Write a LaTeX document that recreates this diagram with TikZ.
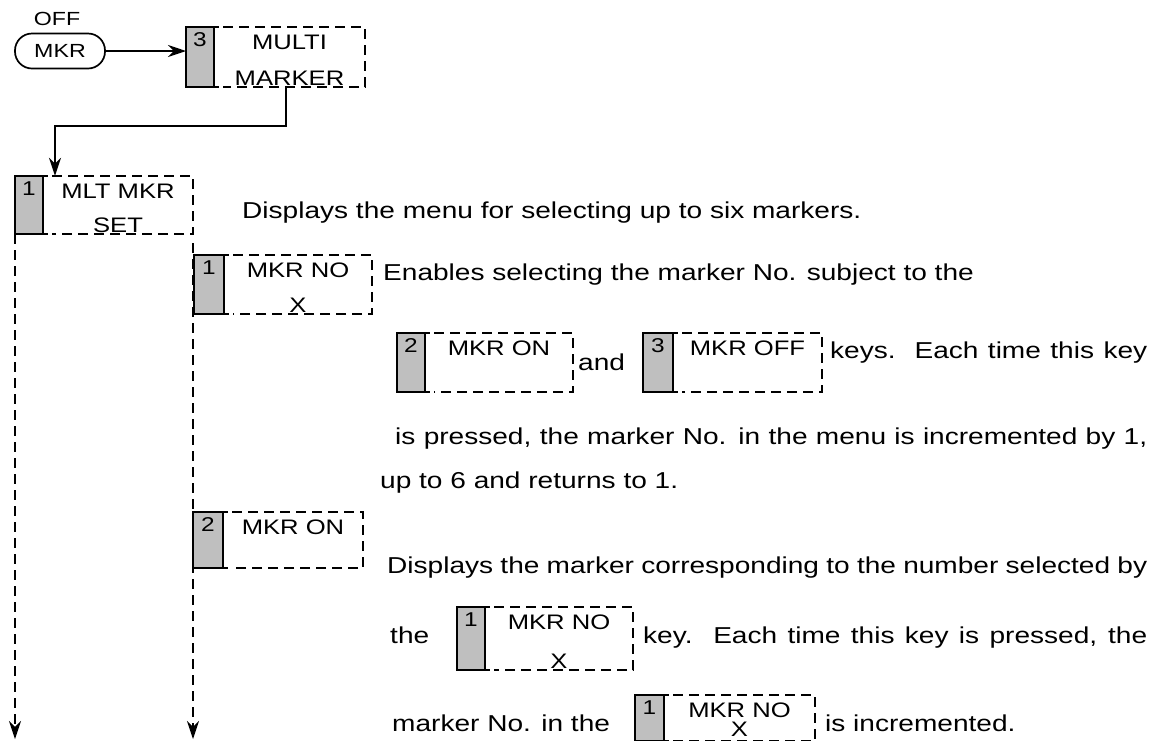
\documentclass[tikz,border=0pt]{standalone}
\usepackage{fontspec}
\setmainfont{Liberation Sans}[FakeStretch=1.22]
\usetikzlibrary{arrows.meta,calc}
\tikzset{
  px/.style={x=1pt,y=-1pt},
  solidln/.style={line width=1.7pt},
  dashln/.style={line width=1.7pt,dash pattern=on 10pt off 6pt},
  arr/.style={-{Stealth[length=18pt,width=12pt]}},
  keyshade/.style={fill=black!25},
  hardtxt/.style={font=\fontsize{19}{21}\selectfont,inner sep=0pt},
  keytxt/.style={font=\fontsize{21}{23}\selectfont,inner sep=0pt},
  keynum/.style={font=\fontsize{20}{22}\selectfont,inner sep=0pt},
  body/.style={font=\fontsize{23}{26}\selectfont,inner sep=0pt,anchor=base west},
  area/.style={draw=none,inner sep=0pt,rectangle}
}
\newcommand{\jline}[2]{\hbox to #1pt{#2}}
% #1 name, #2 x left, #3 x shade right, #4 x right, #5 y top, #6 y bottom, #7 number, #8 line 1, #9 line 2
\newcommand{\softkey}[9]{%
  \path[keyshade] (#2,#5) rectangle (#3,#6);
  \draw[solidln] (#2,#5) rectangle (#3,#6);
  \draw[solidln] (#3,#5) -- ++(5,0) (#3,#6) -- ++(5,0);
  \draw[dashln] ({#3+9},#5) -- (#4,#5) -- (#4,#6) -- ({#3+9},#6);
  \node[area,minimum width={#4-#3},minimum height={#6-#5}] (#1) at ({(#3+#4)/2},{(#5+#6)/2}) {};
  \node[keynum] (#1-n) at ({(#2+#3)/2},{#5+13}) {#7};
  \node[keytxt] (#1-a) at ({(#3+#4)/2},{#5+15}) {#8};
  \node[keytxt,anchor=base] (#1-b) at ({(#3+#4)/2},{#6-1.5}) {#9};
}
\begin{document}
\begin{tikzpicture}[px]
\useasboundingbox (0,0) rectangle (1158,740);

% MKR hard key
\node[hardtxt] (off) at (57,19) {OFF};
\node[draw,solidln,rounded corners=17pt,minimum width=90pt,minimum height=35pt,hardtxt] (mkr) at (60,51) {MKR};

\softkey{mm}{186}{214}{365}{27}{87}{3}{MULTI}{MARKER}
\draw[solidln,arr] (mkr.east) -- (mkr.east -| 186,0);

\softkey{mlt}{15}{43}{193}{176}{234}{1}{MLT MKR}{SET}
\coordinate (c1) at (55,126);
\draw[solidln,arr] ([xshift=-3.5pt]mm.south) |- (c1) -- (c1 |- mlt.north);

% dashed flow lines
\coordinate (endA) at (15,739);
\coordinate (endB) at (193,739);
\draw[dashln,arr] (15,234) -- (endA);
\draw[dashln,arr] (193,243) -- (endB);

\node[body] (t1) at (242,218) {Displays the menu for selecting up to six markers.};

\softkey{no}{194}{224}{372}{255}{314}{1}{MKR NO}{X}
\node[body] (t2) at (383,280) {Enables selecting the marker No. subject to the};

\softkey{on1}{397}{425}{573}{333}{392}{2}{MKR ON}{}
\node[body] (t3) at (578,370) {and};
\softkey{off1}{643}{673}{822}{333}{392}{3}{MKR OFF}{}
\node[body] (t4) at (830,358) {\jline{317}{keys.\ \ Each time this key}};

\node[body] (t5) at (395,444) {\jline{752}{is pressed, the marker No. in the menu is incremented by 1,}};
\node[body] (t6) at (380,488) {up to 6 and returns to 1.};

\softkey{on}{193}{223}{363}{512}{568}{2}{MKR ON}{}
\node[body] (t7) at (387,573) {\jline{760}{Displays the marker corresponding to the number selected by}};

\node[body] (t8) at (390,643) {the};
\softkey{no2}{457}{485}{633}{607}{670}{1}{MKR NO}{X}
\node[body] (t9) at (643,643) {\jline{504}{key.\ \ Each time this key is pressed, the}};

\node[body] (t10) at (392,731) {marker No. in the};
\softkey{no3}{635}{664}{815}{695}{741}{1}{MKR NO}{\raisebox{3pt}{X}}
\node[body] (t11) at (825,731) {is incremented.};
\end{tikzpicture}
\end{document}
